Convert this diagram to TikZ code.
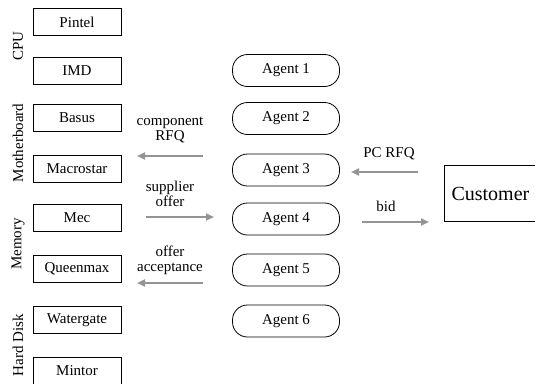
\documentclass[tikz,border=0pt]{standalone}
\usepackage{fontspec}
\setmainfont{Liberation Serif}
\usetikzlibrary{arrows.meta}
\begin{document}
\begin{tikzpicture}[x=1pt,y=-1pt,
  every node/.style={font=\fontsize{15}{16}\selectfont},
  supbox/.style={draw,line width=0.8pt,minimum width=88pt,minimum height=27pt,inner sep=0pt},
  agentbox/.style={draw,line width=0.8pt,rounded corners=15pt,minimum width=107pt,minimum height=32pt,inner sep=0pt},
  custbox/.style={draw,line width=0.8pt,minimum width=92pt,minimum height=56pt,inner sep=0pt,font=\fontsize{20}{22}\selectfont},
  cat/.style={rotate=90,inner sep=0pt},
  flow/.style={draw=black!42,line width=2pt,-{Triangle[length=8pt,width=7pt]}},
  lbl/.style={align=center,inner sep=0pt,font=\fontsize{15}{15}\selectfont}]
\useasboundingbox (0,0) rectangle (535,383);
\clip (0,0) rectangle (535,383);
% suppliers
\node[supbox] (pintel) at (77,22) {Pintel};
\node[supbox] (imd) at (77,70.5) {IMD};
\node[supbox] (basus) at (77,118) {Basus};
\node[supbox] (macrostar) at (77,169) {Macrostar};
\node[supbox] (mec) at (77,218) {Mec};
\node[supbox] (queenmax) at (77,269) {Queenmax};
\node[supbox] (watergate) at (77,320) {Watergate};
\node[supbox] (mintor) at (77,371) {Mintor};
% categories
\node[cat] (cpu) at (18,46) {CPU};
\node[cat] (mb) at (18,143) {Motherboard};
\node[cat] (mem) at (18,244) {Memory};
\node[cat] (hd) at (18,345) {Hard Disk};
% agents
\node[agentbox] (a1) at (286,70.5) {Agent 1};
\node[agentbox] (a2) at (286,118.5) {Agent 2};
\node[agentbox] (a3) at (286,170) {Agent 3};
\node[agentbox] (a4) at (286,219) {Agent 4};
\node[agentbox] (a5) at (286,270) {Agent 5};
\node[agentbox] (a6) at (286,321) {Agent 6};
% customer
\node[custbox,anchor=west] (cust) at (444,193.5) {Customer};
% arrow end points
\coordinate (r1s) at (203,156);
\coordinate (r1e) at (137,156);
\coordinate (r2s) at (146,217);
\coordinate (r2e) at (214,217);
\coordinate (r3s) at (203,283);
\coordinate (r3e) at (137,283);
\coordinate (r4s) at (418,172);
\coordinate (r4e) at (351,172);
\coordinate (r5s) at (362,222);
\coordinate (r5e) at (429,222);
\draw[flow] (r1s) -- (r1e);
\draw[flow] (r2s) -- (r2e);
\draw[flow] (r3s) -- (r3e);
\draw[flow] (r4s) -- (r4e);
\draw[flow] (r5s) -- (r5e);
% labels
\node[lbl] (l1) at (170,130) {component\\RFQ};
\node[lbl] (l2) at (170,194) {supplier\\offer};
\node[lbl] (l3) at (170,260) {offer\\acceptance};
\node[lbl] (l4) at (389,154) {PC RFQ};
\node[lbl] (l5) at (386,206) {bid};
\end{tikzpicture}
\end{document}
